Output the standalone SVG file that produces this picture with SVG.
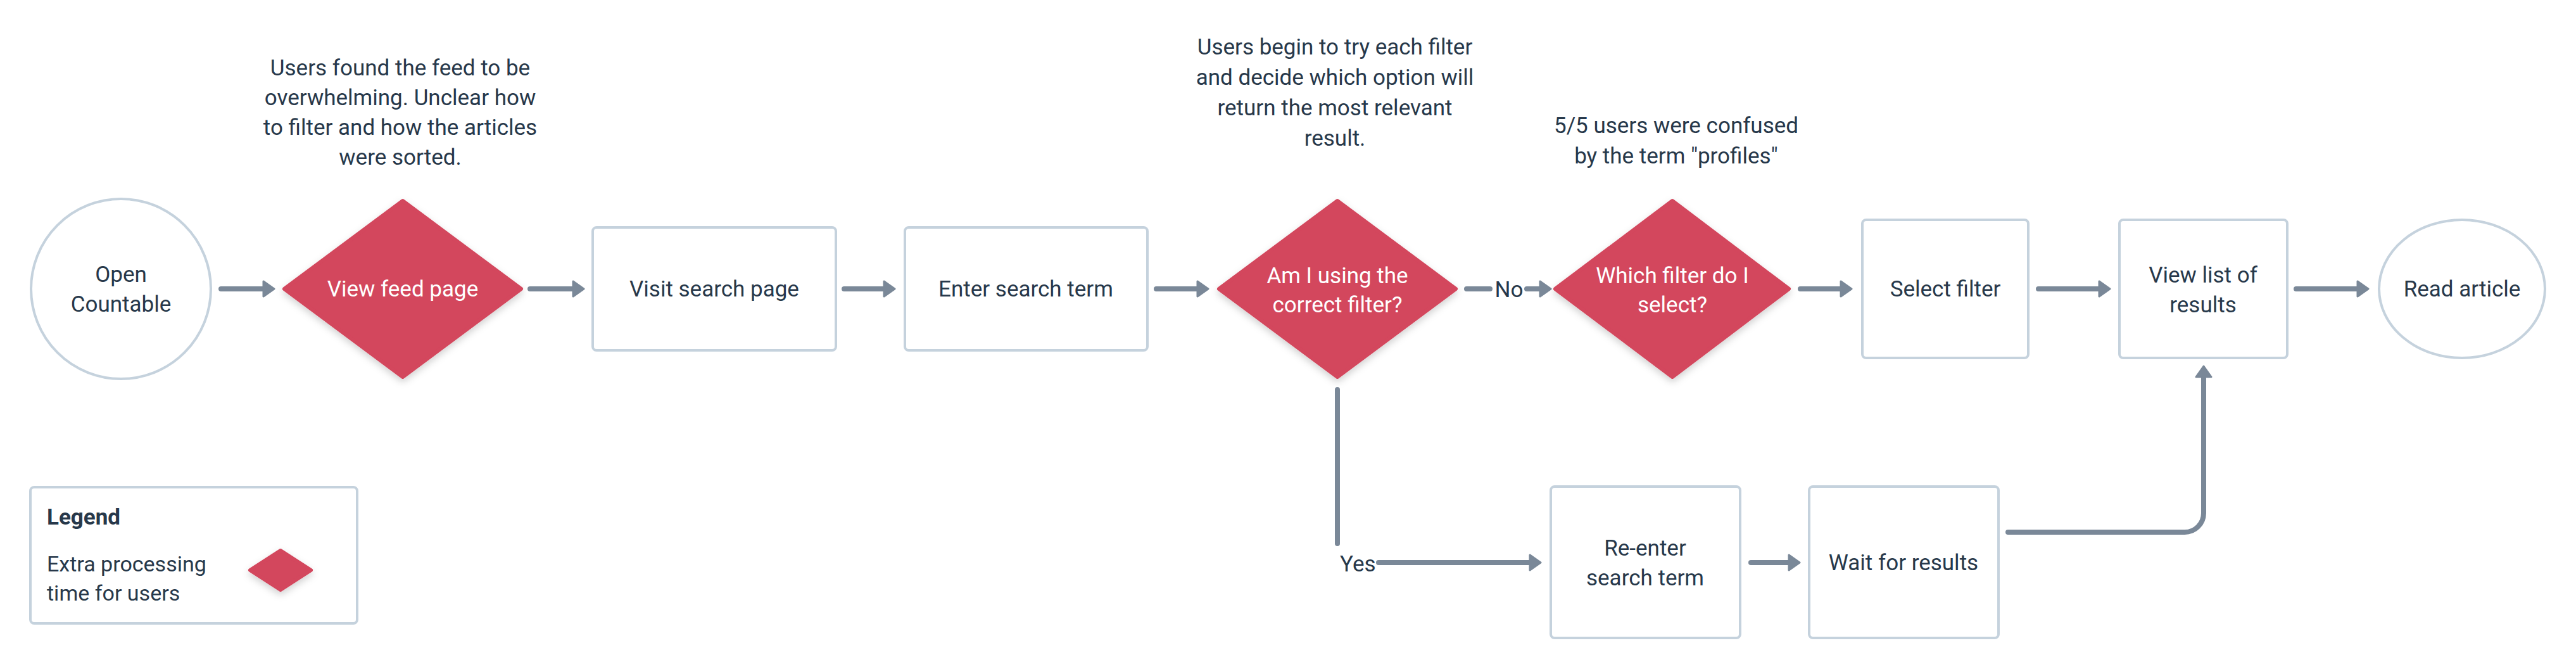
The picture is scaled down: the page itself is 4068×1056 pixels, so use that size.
<svg xmlns="http://www.w3.org/2000/svg" width="4068" height="1056" viewBox="0 0 4068 1056">
<style>
text{font-family:Roboto,"Liberation Sans",sans-serif;font-size:35px;fill:#27384a}
.c{text-anchor:middle}
.w{fill:#ffffff}
.box{fill:#ffffff;stroke:#c5d2dd;stroke-width:4}
.dia{fill:#d3465d;stroke:#d3465d;stroke-width:6;stroke-linejoin:round;filter:url(#sh)}
.ln{fill:none;stroke:#7a8898;stroke-width:8;stroke-linecap:round;stroke-linejoin:round}
.ar{marker-end:url(#ah)}
</style>
<defs>
<filter id="sh" x="-20%" y="-20%" width="140%" height="150%">
<feDropShadow dx="0" dy="5" stdDeviation="6" flood-color="#000000" flood-opacity="0.18"/>
</filter>
<marker id="ah" viewBox="0 -14 22 28" markerWidth="22" markerHeight="28" markerUnits="userSpaceOnUse" refX="4" refY="0" orient="auto">
<path d="M2,-12 L19,0 L2,12 Z" fill="#7a8898" stroke="#7a8898" stroke-width="3" stroke-linejoin="round"/>
</marker>
</defs>
<rect width="4068" height="1056" fill="#ffffff"/>

<g id="connectors">
<line class="ln ar" x1="349" y1="456" x2="418" y2="456"/>
<line class="ln ar" x1="837" y1="456" x2="907" y2="456"/>
<line class="ln ar" x1="1333" y1="456" x2="1398" y2="456"/>
<line class="ln ar" x1="1826" y1="456" x2="1893" y2="456"/>
<line class="ln" x1="2316" y1="456" x2="2353" y2="456"/>
<line class="ln ar" x1="2411" y1="456" x2="2434" y2="456"/>
<line class="ln ar" x1="2843" y1="456" x2="2909" y2="456"/>
<line class="ln ar" x1="3219" y1="456" x2="3317" y2="456"/>
<line class="ln ar" x1="3626" y1="456" x2="3725" y2="456"/>
<line class="ln" x1="2112" y1="615" x2="2112" y2="858"/>
<line class="ln ar" x1="2177" y1="888" x2="2418" y2="888"/>
<line class="ln ar" x1="2765" y1="888" x2="2827" y2="888"/>
<path class="ln ar" d="M3171,840 H3450 A30,30 0 0 0 3480,810 V593"/>
<text x="2383" y="469" class="c">No</text>
<text x="2116" y="902">Yes</text>
</g>

<g id="note-feed">
<text class="c" x="632" y="119">Users found the feed to be</text>
<text class="c" x="632" y="166">overwhelming. Unclear how</text>
<text class="c" x="632" y="213">to filter and how the articles</text>
<text class="c" x="632" y="260">were sorted.</text>
</g>
<g id="note-filter">
<text class="c" x="2108" y="86">Users begin to try each filter</text>
<text class="c" x="2108" y="134">and decide which option will</text>
<text class="c" x="2108" y="182">return the most relevant</text>
<text class="c" x="2108" y="230">result.</text>
</g>
<g id="note-profiles">
<text class="c" x="2647" y="210">5/5 users were confused</text>
<text class="c" x="2647" y="258">by the term "profiles"</text>
</g>

<g id="open-countable">
<circle class="box" cx="191" cy="456" r="142"/>
<text class="c" x="191" y="445">Open</text>
<text class="c" x="191" y="492">Countable</text>
</g>
<g id="view-feed">
<polygon class="dia" points="636,317 823,456 636,595 449,456"/>
<text class="c w" x="636" y="468">View feed page</text>
</g>
<g id="visit-search">
<rect class="box" x="936" y="359" width="384" height="194" rx="6"/>
<text class="c" x="1128" y="468">Visit search page</text>
</g>
<g id="enter-search">
<rect class="box" x="1429" y="359" width="383" height="194" rx="6"/>
<text class="c" x="1620" y="468">Enter search term</text>
</g>
<g id="correct-filter">
<polygon class="dia" points="2112,317 2299,456 2112,595 1925,456"/>
<text class="c w" x="2112" y="447">Am I using the</text>
<text class="c w" x="2112" y="493">correct filter?</text>
</g>
<g id="which-filter">
<polygon class="dia" points="2641,317 2825,456 2641,595 2456,456"/>
<text class="c w" x="2641" y="447">Which filter do I</text>
<text class="c w" x="2641" y="493">select?</text>
</g>
<g id="select-filter">
<rect class="box" x="2941" y="347" width="262" height="218" rx="6"/>
<text class="c" x="3072" y="468">Select filter</text>
</g>
<g id="view-results">
<rect class="box" x="3347" y="347" width="265" height="218" rx="6"/>
<text class="c" x="3479" y="446">View list of</text>
<text class="c" x="3479" y="493">results</text>
</g>
<g id="read-article">
<ellipse class="box" cx="3888" cy="456" rx="131" ry="109"/>
<text class="c" x="3888" y="468">Read article</text>
</g>
<g id="reenter-search">
<rect class="box" x="2449" y="768" width="299" height="239" rx="6"/>
<text class="c" x="2598" y="877">Re-enter</text>
<text class="c" x="2598" y="924">search term</text>
</g>
<g id="wait-results">
<rect class="box" x="2857" y="768" width="299" height="239" rx="6"/>
<text class="c" x="3006" y="900">Wait for results</text>
</g>

<g id="legend">
<rect class="box" x="48" y="769" width="516" height="215" rx="6"/>
<text x="74" y="828" style="font-weight:700">Legend</text>
<text x="74" y="902" style="font-size:34px">Extra processing</text>
<text x="74" y="948" style="font-size:34px">time for users</text>
<polygon class="dia" points="443,869 491,900 443,931 395,900"/>
</g>
</svg>
